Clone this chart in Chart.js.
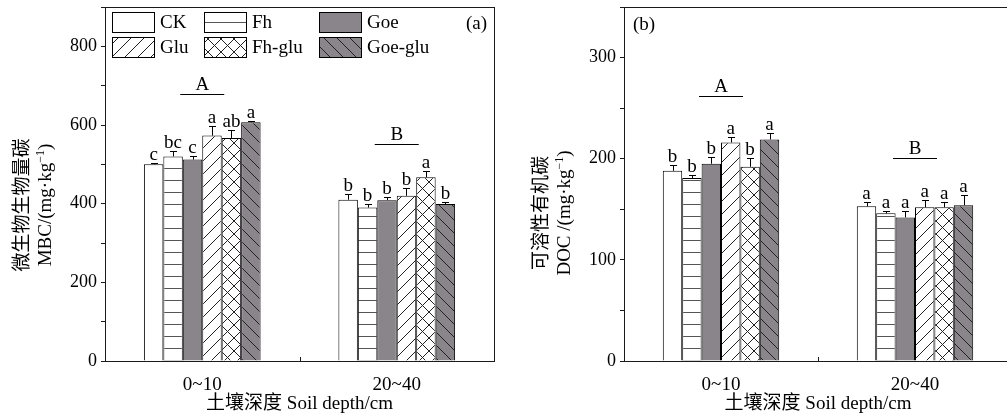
<!DOCTYPE html>
<html><head><meta charset="utf-8">
<script src="https://cdn.jsdelivr.net/npm/chart.js@4.4.1/dist/chart.umd.min.js"></script>
<style>
html,body{margin:0;padding:0;background:#fff;}
body{width:1007px;height:417px;overflow:hidden;position:relative;}
#wa{position:absolute;left:0;top:0;width:500px;height:417px;}
#wb{position:absolute;left:520px;top:0;width:500px;height:417px;}
</style></head><body>
<div id="wa"><canvas id="ca"></canvas></div>
<div id="wb"><canvas id="cb"></canvas></div>
<script>
// ---------- data ----------
const categories = ['0~10', '20~40'];
const seriesNames = ['CK', 'Fh', 'Goe', 'Glu', 'Fh-glu', 'Goe-glu'];
const groupLetters = ['A', 'B'];

// MBC (mg/kg), one row per series, columns = categories
const mbcMeans   = [[500, 410], [520, 390], [512, 409], [573, 420], [567, 467], [607, 399]];
const mbcErrors  = [[3, 15], [15, 8], [10, 8], [24, 19], [21, 17], [3, 5]];
const mbcLetters = [['c', 'b'], ['bc', 'b'], ['c', 'b'], ['a', 'b'], ['ab', 'a'], ['a', 'b']];

// DOC (mg/kg)
const docMeans   = [[188, 153], [181, 146], [195, 142], [216, 152], [192, 152], [219, 154]];
const docErrors  = [[6, 4], [3, 2], [7, 6], [5, 7], [9, 5], [6, 10]];
const docLetters = [['b', 'a'], ['b', 'a'], ['b', 'a'], ['a', 'a'], ['b', 'a'], ['a', 'a']];

// ---------- styling ----------
const SERIF = '"Liberation Serif", "Times New Roman", "Noto Sans CJK SC", serif';
const CJK = '"Noto Sans CJK SC", "Liberation Serif", sans-serif';
const GREY = '#8a858a';
const INK = '#1a1a1a';

function makePattern(kind) {
  const s = kind === 'h' ? 12 : 13;
  const c = document.createElement('canvas');
  c.width = s; c.height = s;
  const g = c.getContext('2d');
  g.fillStyle = (kind === 'back') ? GREY : '#fff';
  g.fillRect(0, 0, s, s);
  g.strokeStyle = kind === 'h' ? '#555' : '#222';
  g.lineWidth = 1;
  g.beginPath();
  if (kind === 'h') {
    g.moveTo(0, 0.5); g.lineTo(s, 0.5);
  }
  if (kind === 'fwd' || kind === 'cross') {
    g.moveTo(-1, s + 1); g.lineTo(s + 1, -1);
    g.moveTo(-1, 1); g.lineTo(1, -1);
    g.moveTo(s - 1, s + 1); g.lineTo(s + 1, s - 1);
  }
  if (kind === 'back' || kind === 'cross') {
    g.moveTo(-1, -1); g.lineTo(s + 1, s + 1);
    g.moveTo(s - 1, -1); g.lineTo(s + 1, 1);
    g.moveTo(-1, s - 1); g.lineTo(1, s + 1);
  }
  g.stroke();
  return g.createPattern(c, 'repeat');
}
const fills = ['#ffffff', makePattern('h'), GREY, makePattern('fwd'), makePattern('cross'), makePattern('back')];

function drawRich(ctx, parts, cx, cy) {
  // parts: [text, isSup]
  let w = 0;
  parts.forEach(p => { ctx.font = p[1] ? '12px ' + SERIF : '19px ' + SERIF; w += ctx.measureText(p[0]).width; });
  let x = cx - w / 2;
  ctx.textAlign = 'left';
  parts.forEach(p => {
    ctx.font = p[1] ? '12px ' + SERIF : '19px ' + SERIF;
    ctx.textBaseline = 'alphabetic';
    ctx.fillText(p[0], x, cy + 6 - (p[1] ? 7 : 0));
    x += ctx.measureText(p[0]).width;
  });
}

function makePlugin(cfg) {
  return {
    id: 'annot',
    afterDatasetsDraw(chart) {
      const ctx = chart.ctx, ys = chart.scales.y, xs = chart.scales.x;
      ctx.save();
      ctx.strokeStyle = '#000'; ctx.fillStyle = '#000'; ctx.lineWidth = 1;
      ctx.font = '19px ' + SERIF; ctx.textAlign = 'center'; ctx.textBaseline = 'alphabetic';
      chart.data.datasets.forEach((ds, i) => {
        const meta = chart.getDatasetMeta(i);
        meta.data.forEach((bar, j) => {
          const x = Math.round(bar.x) + 0.5;
          const top = Math.round(ys.getPixelForValue(ds.data[j] + cfg.errors[i][j])) + 0.5;
          ctx.beginPath();
          ctx.moveTo(x, bar.y); ctx.lineTo(x, top);
          ctx.moveTo(x - 3.5, top); ctx.lineTo(x + 3.5, top);
          ctx.stroke();
          ctx.fillText(cfg.letters[i][j], bar.x, top - 4);
        });
      });
      categories.forEach((c, j) => {
        let m = 0;
        cfg.means.forEach((row, i) => { m = Math.max(m, row[j] + cfg.errors[i][j]); });
        const py = Math.round(ys.getPixelForValue(m) - cfg.groupGap) + 0.5;
        const cx = xs.getPixelForValue(j);
        ctx.beginPath(); ctx.moveTo(cx - 22, py); ctx.lineTo(cx + 22, py); ctx.stroke();
        ctx.fillText(groupLetters[j], cx, py - 5);
      });
      ctx.restore();
    },
    afterDraw(chart) {
      const ctx = chart.ctx, a = chart.chartArea, xs = chart.scales.x;
      ctx.save();
      ctx.strokeStyle = INK; ctx.lineWidth = 1;
      ctx.strokeRect(Math.round(a.left) + 0.5, Math.round(a.top) + 0.5, Math.round(a.right - a.left), Math.round(a.bottom - a.top));
      // category boundary tick (inward)
      const mx = Math.round((xs.getPixelForValue(0) + xs.getPixelForValue(1)) / 2) + 0.5;
      ctx.beginPath(); ctx.moveTo(mx, a.bottom); ctx.lineTo(mx, a.bottom - 4); ctx.stroke();
      ctx.fillStyle = '#000';
      // x title
      ctx.textBaseline = 'alphabetic';
      ctx.font = '19px ' + CJK;
      const cjkW = ctx.measureText('土壤深度').width;
      ctx.font = '19px ' + SERIF;
      const latW = ctx.measureText(' Soil depth/cm').width;
      const sx = (a.left + a.right) / 2 - (cjkW + latW) / 2;
      ctx.textAlign = 'left';
      ctx.font = '19px ' + CJK; ctx.fillText('土壤深度', sx, 409);
      ctx.font = '19px ' + SERIF; ctx.fillText(' Soil depth/cm', sx + cjkW, 409);
      // y titles
      ctx.save();
      ctx.translate(cfg.titleX[0], cfg.titleCY); ctx.rotate(-Math.PI / 2);
      ctx.font = '19px ' + CJK; ctx.textAlign = 'center'; ctx.textBaseline = 'middle';
      ctx.fillText(cfg.titleCN, 0, 0);
      ctx.restore();
      ctx.save();
      ctx.translate(cfg.titleX[1], cfg.titleCY); ctx.rotate(-Math.PI / 2);
      drawRich(ctx, cfg.titleEN, 0, 0);
      ctx.restore();
      // panel label
      ctx.font = '19px ' + SERIF; ctx.textBaseline = 'middle';
      if (cfg.panelRight) { ctx.textAlign = 'right'; ctx.fillText(cfg.panel, a.right - 7, 24); }
      else { ctx.textAlign = 'left'; ctx.fillText(cfg.panel, a.left + 9, 25); }
      // legend
      if (cfg.legend) {
        const colX = [112, 204, 319], rowY = [12, 37];
        seriesNames.forEach((n, i) => {
          const x = colX[i % 3], y = rowY[Math.floor(i / 3)];
          ctx.fillStyle = i === 1 ? '#fff' : fills[i];
          ctx.fillRect(x, y, 42, 20);
          if (i === 1) {
            ctx.strokeStyle = '#555';
            ctx.beginPath(); ctx.moveTo(x, y + 10.5); ctx.lineTo(x + 42, y + 10.5); ctx.stroke();
          }
          ctx.strokeStyle = '#000';
          ctx.strokeRect(x + 0.5, y + 0.5, 42, 20);
          ctx.fillStyle = '#000'; ctx.textAlign = 'left'; ctx.textBaseline = 'middle';
          ctx.font = '19px ' + SERIF;
          ctx.fillText(n, x + 48, y + 11);
        });
      }
      ctx.restore();
    }
  };
}

function makeChart(id, cfg) {
  const datasets = seriesNames.map((n, i) => ({
    label: n, data: cfg.means[i], backgroundColor: fills[i],
    borderColor: '#000', borderWidth: 1, categoryPercentage: 0.6, barPercentage: 1.0
  }));
  return new Chart(document.getElementById(id), {
    type: 'bar',
    data: { labels: categories, datasets },
    plugins: [makePlugin(cfg)],
    options: {
      responsive: true, maintainAspectRatio: false, animation: false, events: [],
      layout: { padding: { left: 0, right: cfg.padRight, top: 7, bottom: 0 } },
      plugins: { legend: { display: false }, tooltip: { enabled: false } },
      scales: {
        x: {
          grid: { display: false }, border: { display: false },
          ticks: { color: '#000', font: { family: SERIF, size: 19 }, padding: 5 },
          afterFit(s) { s.height = 56; s.paddingLeft = 0; s.paddingRight = 0; }
        },
        y: {
          min: 0, max: cfg.yMax,
          grid: { display: true, drawOnChartArea: false, drawTicks: true, tickLength: 4, color: INK },
          border: { display: false },
          ticks: {
            stepSize: cfg.yStep, autoSkip: false, color: '#000', padding: 4,
            font: { family: SERIF, size: 18 },
            callback: v => (v % cfg.labelStep === 0 ? String(v) : '')
          },
          afterFit(s) { s.width = cfg.axisWidth; s.paddingTop = 0; s.paddingBottom = 0; }
        }
      }
    }
  });
}

makeChart('ca', {
  means: mbcMeans, errors: mbcErrors, letters: mbcLetters,
  yMax: 900, yStep: 100, labelStep: 200, axisWidth: 105, padRight: 6,
  groupGap: 27, panel: '(a)', panelRight: true, legend: true,
  titleCN: '微生物生物量碳', titleEN: [['MBC/(mg·kg', false], ['−1', true], [')', false]],
  titleX: [21, 45], titleCY: 205
});
makeChart('cb', {
  means: docMeans, errors: docErrors, letters: docLetters,
  yMax: 350, yStep: 50, labelStep: 100, axisWidth: 104, padRight: 8,
  groupGap: 37.5, panel: '(b)', panelRight: false, legend: false,
  titleCN: '可溶性有机碳', titleEN: [['DOC /(mg·kg', false], ['−1', true], [')', false]],
  titleX: [20, 44], titleCY: 213
});
</script>
</body></html>
